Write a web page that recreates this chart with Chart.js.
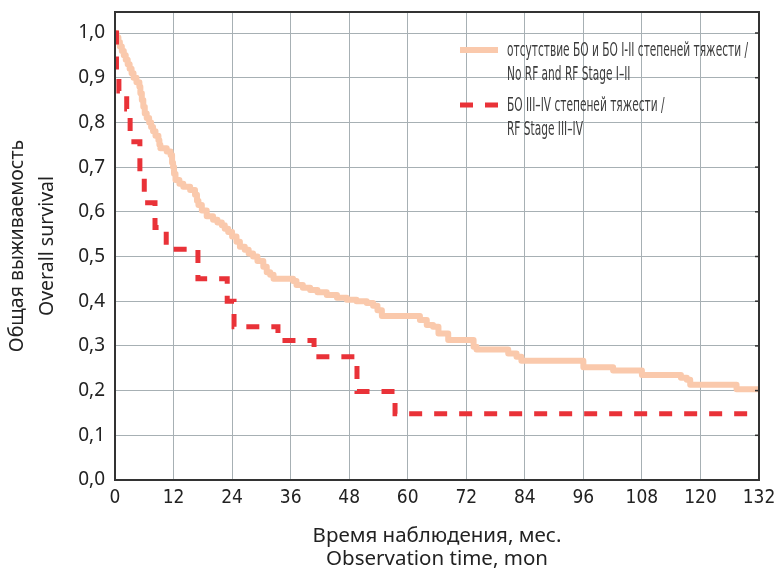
<!DOCTYPE html>
<html><head><meta charset="utf-8">
<script src="https://cdn.jsdelivr.net/npm/chart.js@4.4.1/dist/chart.umd.min.js"></script>
<style>html,body{margin:0;padding:0;background:#fff;}</style>
</head><body>
<canvas id="c" width="776" height="572"></canvas>
<script>
const xTicks = [0, 12, 24, 36, 48, 60, 72, 84, 96, 108, 120, 132];
const yTicks = [0, 0.1, 0.2, 0.3, 0.4, 0.5, 0.6, 0.7, 0.8, 0.9, 1.0];

const orangeTime = [0, 0.3, 0.7, 1.0, 1.4, 1.8, 2.2, 2.6, 3.0, 3.4, 3.8, 4.4, 5.0, 5.2, 5.5, 5.8, 6.1, 6.5, 7.0, 7.4, 7.8, 8.3, 8.9, 9.1, 9.3, 10.6, 11.4, 11.7, 11.9, 12.1, 12.4, 13.2, 14.0, 15.4, 16.4, 16.8, 17.1, 17.8, 18.8, 20.1, 21.0, 21.9, 22.5, 23.2, 24.0, 24.9, 25.6, 26.6, 27.4, 28.3, 29.2, 30.4, 31.1, 31.8, 32.5, 36.5, 37.2, 38.5, 40.0, 41.5, 43.4, 45.5, 47.5, 49.5, 51.6, 52.9, 53.8, 54.7, 62.5, 63.9, 65.2, 66.3, 68.3, 73.5, 74.1, 80.6, 82.3, 83.3, 96.0, 102.1, 108.0, 116.0, 117.2, 117.9, 127.4, 132];
const orangeSurv = [1.0, 0.99, 0.98, 0.97, 0.96, 0.95, 0.94, 0.93, 0.92, 0.91, 0.90, 0.89, 0.88, 0.865, 0.85, 0.835, 0.82, 0.81, 0.80, 0.79, 0.78, 0.77, 0.76, 0.75, 0.742, 0.735, 0.727, 0.71, 0.70, 0.685, 0.671, 0.663, 0.656, 0.649, 0.638, 0.625, 0.615, 0.603, 0.59, 0.582, 0.576, 0.57, 0.562, 0.555, 0.545, 0.533, 0.522, 0.515, 0.507, 0.50, 0.49, 0.477, 0.465, 0.459, 0.45, 0.445, 0.436, 0.43, 0.425, 0.42, 0.414, 0.408, 0.403, 0.40, 0.396, 0.39, 0.38, 0.367, 0.358, 0.347, 0.343, 0.328, 0.313, 0.298, 0.292, 0.283, 0.276, 0.267, 0.252, 0.245, 0.235, 0.229, 0.224, 0.213, 0.203, 0.203];

const redTime = [0, 0.3, 0.8, 2.4, 3.1, 5.1, 6.0, 8.2, 10.5, 17.0, 23.0, 24.4, 33.4, 40.8, 49.6, 57.4, 132];
const redSurv = [1.0, 0.91, 0.87, 0.83, 0.757, 0.69, 0.62, 0.565, 0.516, 0.45, 0.40, 0.343, 0.312, 0.276, 0.198, 0.148, 0.148];

const seriesNames = [
  ["отсутствие БО и БО I-II степеней тяжести /", "No RF and RF Stage I–II"],
  ["БО III–IV степеней тяжести /", "RF Stage III–IV"]
];
const xTitle = ["Время наблюдения, мес.", "Observation time, mon"];
const yTitle = ["Общая выживаемость", "Overall survival"];

const ORANGE = 'rgb(250,201,172)';
const RED = 'rgb(233,50,56)';
const GRID = '#a7b0b4';
const FRAME = '#333';
const NARROW = '"Liberation Sans Narrow", "DejaVu Sans Condensed", "Noto Sans", sans-serif';
const REG = '"Noto Sans", "Open Sans", sans-serif';

const toPts = (t, s) => t.map((v, i) => ({x: v, y: s[i]}));

const framePlugin = {
  id: 'frame',
  afterDatasetsDraw(chart) {
    const {ctx, chartArea: a, scales} = chart;
    ctx.save();
    ctx.strokeStyle = FRAME;
    ctx.lineWidth = 2;
    ctx.strokeRect(a.left, a.top, a.right - a.left, a.bottom - a.top);
    ctx.lineWidth = 1.5;
    yTicks.forEach(v => {
      const y = scales.y.getPixelForValue(v);
      ctx.beginPath(); ctx.moveTo(a.right - 4, y); ctx.lineTo(a.right, y); ctx.stroke();
    });
    ctx.restore();
  }
};

const legendPlugin = {
  id: 'klegend',
  afterDatasetsDraw(chart) {
    const {ctx, chartArea: a} = chart;
    ctx.save();
    const x0 = a.left + 345;
    const tx = x0 + 47;
    const rows = [a.top + 39, a.top + 94];
    const lh = 23.5;
    ctx.font = '20px ' + NARROW;
    const natural = ctx.measureText(seriesNames[0][0]).width;
    const sx = 241 / natural;
    ctx.fillStyle = '#3c3c3c';
    ctx.textBaseline = 'middle';
    seriesNames.forEach((lines, k) => {
      lines.forEach((ln, j) => {
        ctx.save();
        ctx.translate(tx, rows[k] + j * lh);
        ctx.scale(sx, 1);
        ctx.fillText(ln, 0, 0);
        ctx.restore();
      });
    });
    ctx.lineCap = 'butt';
    ctx.strokeStyle = ORANGE; ctx.lineWidth = 6;
    ctx.beginPath(); ctx.moveTo(x0, rows[0] - 1); ctx.lineTo(x0 + 38, rows[0] - 1); ctx.stroke();
    ctx.strokeStyle = RED; ctx.lineWidth = 5;
    ctx.setLineDash([13, 12]);
    ctx.beginPath(); ctx.moveTo(x0, rows[1] - 1); ctx.lineTo(x0 + 38, rows[1] - 1); ctx.stroke();
    ctx.restore();
  }
};

new Chart(document.getElementById('c'), {
  type: 'line',
  data: {
    datasets: [
      {
        label: 'RF Stage III–IV',
        data: toPts(redTime, redSurv),
        borderColor: RED, borderWidth: 5, borderDash: [13, 12],
        stepped: 'before', pointRadius: 0, fill: false, order: 0
      },
      {
        label: 'No RF and RF Stage I–II',
        data: toPts(orangeTime, orangeSurv),
        borderColor: ORANGE, borderWidth: 6, borderJoinStyle: 'round', borderCapStyle: 'round',
        stepped: 'before', pointRadius: 0, fill: false, order: 1
      }
    ]
  },
  options: {
    responsive: false,
    animation: false,
    layout: {padding: {top: 12, right: 17, left: 0, bottom: 0}},
    plugins: {legend: {display: false}, tooltip: {enabled: false}},
    scales: {
      x: {
        type: 'linear', min: 0, max: 132,
        afterBuildTicks: s => { s.ticks = xTicks.map(v => ({value: v})); },
        afterFit: s => { s.height = 92; s.paddingLeft = 0; s.paddingRight = 0; },
        grid: {color: GRID, lineWidth: 1, drawTicks: false},
        border: {display: false},
        ticks: {padding: 7, color: '#222', font: {family: NARROW, size: 19}, maxRotation: 0, callback: v => String(v)},
        title: {display: true, text: xTitle, color: '#222', font: {family: REG, size: 20.5, lineHeight: 1.1}, padding: {top: 0, bottom: 2}}
      },
      y: {
        type: 'linear', min: 0, max: 1.047,
        afterBuildTicks: s => { s.ticks = yTicks.map(v => ({value: v})); },
        afterFit: s => { s.width = 115; s.paddingTop = 0; s.paddingBottom = 0; },
        grid: {color: GRID, lineWidth: 1, drawTicks: false},
        border: {display: false},
        ticks: {padding: 10, color: '#222', font: {family: REG, size: 19}, callback: v => v.toFixed(1).replace('.', ',')},
        title: {display: true, text: yTitle, color: '#222', font: {family: REG, size: 19.5, lineHeight: 1.54}, padding: {top: 2, bottom: 0}}
      }
    }
  },
  plugins: [framePlugin, legendPlugin]
});
</script>
</body></html>
